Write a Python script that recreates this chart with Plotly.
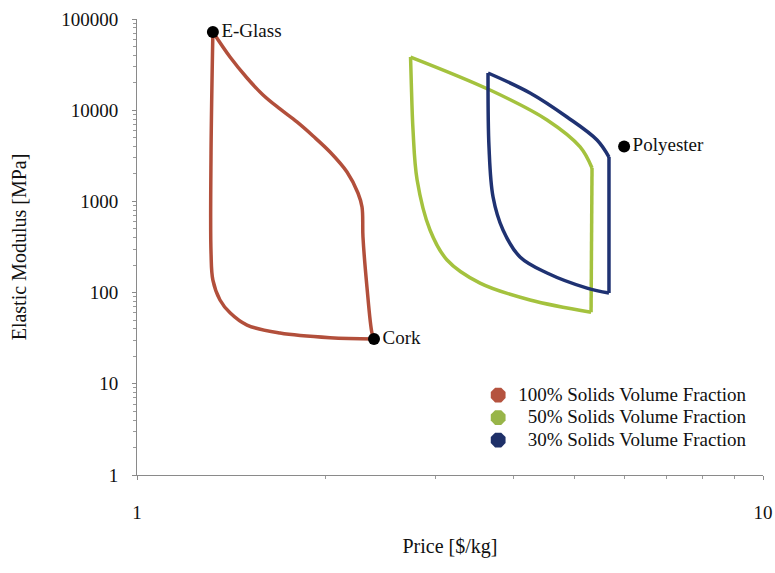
import plotly.graph_objects as go

# ---- data ----
# 100% solids loop: upper edge (E-Glass -> Cork) and lower edge (Cork -> E-Glass)
red_upper_price = [1.322, 1.408, 1.499, 1.590, 1.692, 1.801, 1.911, 2.034, 2.165, 2.254, 2.288,
                   2.296, 2.330, 2.373, 2.391]
red_upper_mod = [72000, 38300, 22550, 14680, 10310, 7430, 5210, 3480, 2100, 1236, 868,
                 407, 115, 36.1, 31]
red_lower_price = [2.391, 2.034, 1.692, 1.499, 1.408, 1.357, 1.322, 1.313, 1.313, 1.322]
red_lower_mod = [31, 32, 36, 44, 60, 83, 137, 272, 3400, 72000]

# 50% solids loop
green_top_price = [2.735, 3.664, 4.519, 5.103, 5.332]
green_top_mod = [38300, 16640, 7810, 3950, 2325]
green_right_price = [5.332, 5.313]
green_right_mod = [2325, 61]
green_lower_price = [5.313, 4.245, 3.532, 3.128, 2.938, 2.802, 2.760, 2.742, 2.735]
green_lower_mod = [61, 83, 127, 228, 486, 1717, 6070, 21000, 38300]

# 30% solids loop
blue_top_price = [3.637, 4.245, 4.863, 5.431, 5.675]
blue_top_mod = [25580, 15450, 8420, 4710, 3067]
blue_right_price = [5.675, 5.675]
blue_right_mod = [3067, 99]
blue_lower_price = [5.675, 5.235, 4.519, 4.091, 3.843, 3.705, 3.650, 3.637]
blue_lower_mod = [99, 112, 164, 246, 486, 1117, 3950, 25580]

material_names = ["E-Glass", "Cork", "Polyester"]
material_price = [1.322, 2.391, 6.0]
material_mod = [72000, 31, 4000]

series_names = ["100% Solids Volume Fraction", "\u200750% Solids Volume Fraction",
                "\u200730% Solids Volume Fraction"]
line_colors = ["#B24F3B", "#A4C23E", "#1F3272"]
legend_colors = ["#B5533F", "#98B549", "#1E3068"]

x_tickvals = [1, 10]
x_ticktext = ["1", "10"]
y_tickvals = [1, 10, 100, 1000, 10000, 100000]
y_ticktext = ["1", "10", "100", "1000", "10000", "100000"]

FONT = "Liberation Serif, Times New Roman, serif"

fig = go.Figure()

segments = [
    (red_upper_price, red_upper_mod, 0, "spline"),
    (red_lower_price, red_lower_mod, 0, "spline"),
    (green_top_price, green_top_mod, 1, "spline"),
    (green_right_price, green_right_mod, 1, "linear"),
    (green_lower_price, green_lower_mod, 1, "spline"),
    (blue_top_price, blue_top_mod, 2, "spline"),
    (blue_right_price, blue_right_mod, 2, "linear"),
    (blue_lower_price, blue_lower_mod, 2, "spline"),
]
for xs, ys, ci, shape in segments:
    fig.add_trace(go.Scatter(x=xs, y=ys, mode="lines",
                             line=dict(color=line_colors[ci], width=3.5, shape=shape, smoothing=1),
                             showlegend=False, hoverinfo="skip"))

fig.add_trace(go.Scatter(x=material_price, y=material_mod, mode="markers+text",
                         text=material_names, textposition="middle right",
                         textfont=dict(family=FONT, size=19, color="#111"),
                         marker=dict(color="black", size=12), showlegend=False))

for name, c in zip(series_names, legend_colors):
    fig.add_trace(go.Scatter(x=[None], y=[None], mode="markers",
                             name='<span style="font-size:19px">' + name + '</span>',
                             marker=dict(symbol="octagon", size=22, color=c)))

axis_common = dict(type="log", showline=True, linecolor="#8a8a8a", linewidth=1,
                   showgrid=False, zeroline=False, ticks="outside", ticklen=4,
                   tickcolor="#8a8a8a", tickfont=dict(family=FONT, size=19, color="#111"),
                   minor=dict(ticks="outside", ticklen=3, tickcolor="#9a9a9a", dtick="D1",
                              showgrid=False))

fig.update_xaxes(**axis_common, range=[0, 1], tickvals=x_tickvals, ticktext=x_ticktext,
                 ticklabelstandoff=16,
                 title=dict(text="Price [$/kg]", font=dict(family=FONT, size=20, color="#111"),
                            standoff=17))
fig.update_yaxes(**axis_common, range=[0, 5], tickvals=y_tickvals, ticktext=y_ticktext,
                 ticklabelstandoff=10,
                 title=dict(text="Elastic Modulus [MPa]",
                            font=dict(family=FONT, size=20, color="#111"), standoff=29))

fig.update_layout(
    width=775, height=573,
    margin=dict(l=137, r=12, t=19, b=98, autoexpand=False),
    plot_bgcolor="white", paper_bgcolor="white",
    legend=dict(x=0.545, y=0.211, xanchor="left", yanchor="top",
                font=dict(family=FONT, size=15, color="#111"),
                bgcolor="rgba(0,0,0,0)", tracegroupgap=0, itemwidth=30),
)

fig.write_html("out.html", config={"displayModeBar": False},
               post_script="document.body.style.margin='0';document.body.style.overflow='hidden';")
